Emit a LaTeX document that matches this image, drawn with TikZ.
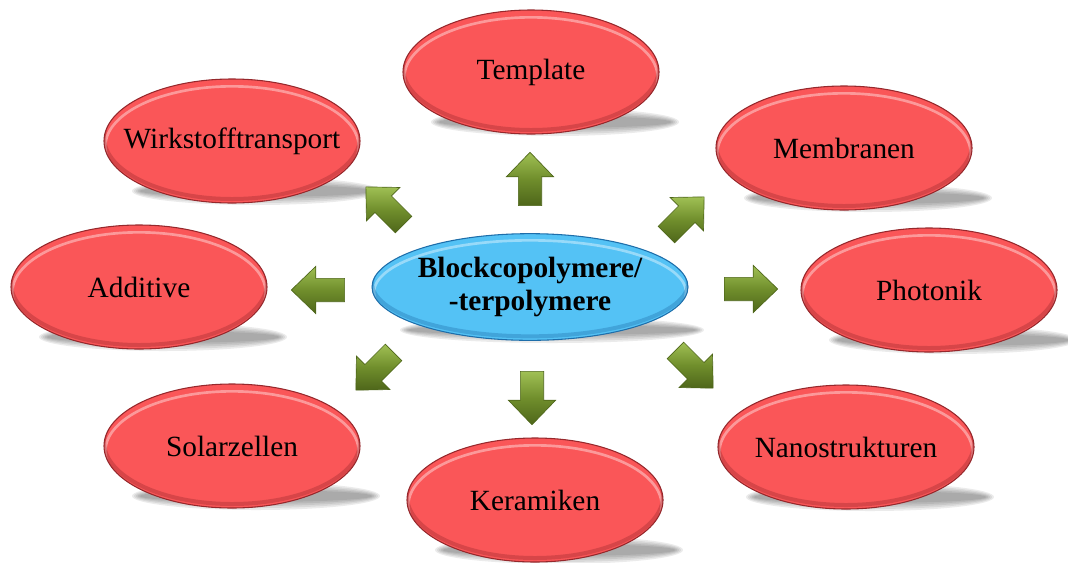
\documentclass[tikz,border=0pt]{standalone}
\usepackage{fontspec}
\setmainfont{Liberation Serif}
\usepackage{xcolor}
\usetikzlibrary{shapes.geometric,shapes.arrows}
\definecolor{topicred}{RGB}{250,86,88}
\definecolor{topicrim}{RGB}{150,40,44}
\definecolor{hubblue}{RGB}{84,194,245}
\definecolor{hubrim}{RGB}{30,110,170}
\definecolor{arrowlight}{RGB}{160,192,84}
\definecolor{arrowgreen}{RGB}{112,142,44}
\definecolor{arrowdark}{RGB}{78,102,26}

\begin{document}
\begin{tikzpicture}[x=0.75pt,y=-0.75pt,
  topic/.style={ellipse, fill=topicred, draw=topicrim, line width=0.8pt, minimum width=192pt, minimum height=93pt, inner xsep=-20pt, inner ysep=0pt,
    font=\fontsize{22}{25}\selectfont,
    path picture={
      \draw[white, opacity=0.4, line width=2pt] ([yshift=-4pt]path picture bounding box.center) ellipse [x radius=95pt, y radius=45pt];
      \draw[topicrim, opacity=0.35, line width=3pt] ([yshift=3pt]path picture bounding box.center) ellipse [x radius=96pt, y radius=46.5pt];
    }},
  hub/.style={ellipse, fill=hubblue, draw=hubrim, line width=0.8pt, minimum width=237pt, minimum height=80pt, inner xsep=-10pt, inner ysep=0pt,
    align=center, font=\bfseries\fontsize{22}{25}\selectfont,
    path picture={
      \draw[white, opacity=0.4, line width=2pt] ([yshift=-4pt]path picture bounding box.center) ellipse [x radius=117pt, y radius=39pt];
      \draw[hubrim, opacity=0.35, line width=3pt] ([yshift=3pt]path picture bounding box.center) ellipse [x radius=118.5pt, y radius=40pt];
    }},
  blockarrow/.style={single arrow, draw=arrowdark, line width=0.5pt, top color=arrowlight, bottom color=arrowdark, middle color=arrowgreen,
    minimum height=40pt, minimum width=35pt, single arrow head extend=9pt, single arrow tip angle=88, inner xsep=0pt, inner ysep=8.5pt},
  groundshade/.style={fill=black, opacity=0.08}]

\useasboundingbox (0,0) rectangle (1068,562);

\foreach \cx/\cy in {531/72, 232/141, 844/148, 139/287, 929/290, 232/446, 846/447, 535/500}{
  \foreach \k in {0,2,4,6,8}{
    \fill[groundshade] (\cx+24,\cy+50) ellipse [x radius=116+\k, y radius=6+\k];
  }
}
\foreach \k in {0,2,4,6,8}{
  \fill[groundshade] (552,330) ellipse [x radius=144+\k, y radius=5+\k];
}

\node[topic] (template) at (531,72) {Template};
\node[topic] (wirkstoff) at (232,141) {Wirkstofftransport};
\node[topic] (membranen) at (844,148) {Membranen};
\node[topic] (additive) at (139,287) {Additive};
\node[topic] (photonik) at (929,290) {Photonik};
\node[topic] (solar) at (232,446) {Solarzellen};
\node[topic] (nano) at (846,447) {Nanostrukturen};
\node[topic] (keramik) at (535,500) {Keramiken};

\node[hub] (block) at (530,287) {Blockcopolymere/\\-terpolymere};

\node[blockarrow, rotate=90] (toTemplate) at (530,185) {};
\node[blockarrow, rotate=135] (toWirkstoff) at (389,210) {};
\node[blockarrow, rotate=45] (toMembranen) at (681,220) {};
\node[blockarrow, rotate=180] (toAdditive) at (324,290) {};
\node[blockarrow, rotate=0] (toPhotonik) at (745,289) {};
\node[blockarrow, rotate=225] (toSolar) at (379,367) {};
\node[blockarrow, rotate=315] (toNano) at (690,365) {};
\node[blockarrow, rotate=270] (toKeramik) at (532,392) {};
\end{tikzpicture}
\end{document}
